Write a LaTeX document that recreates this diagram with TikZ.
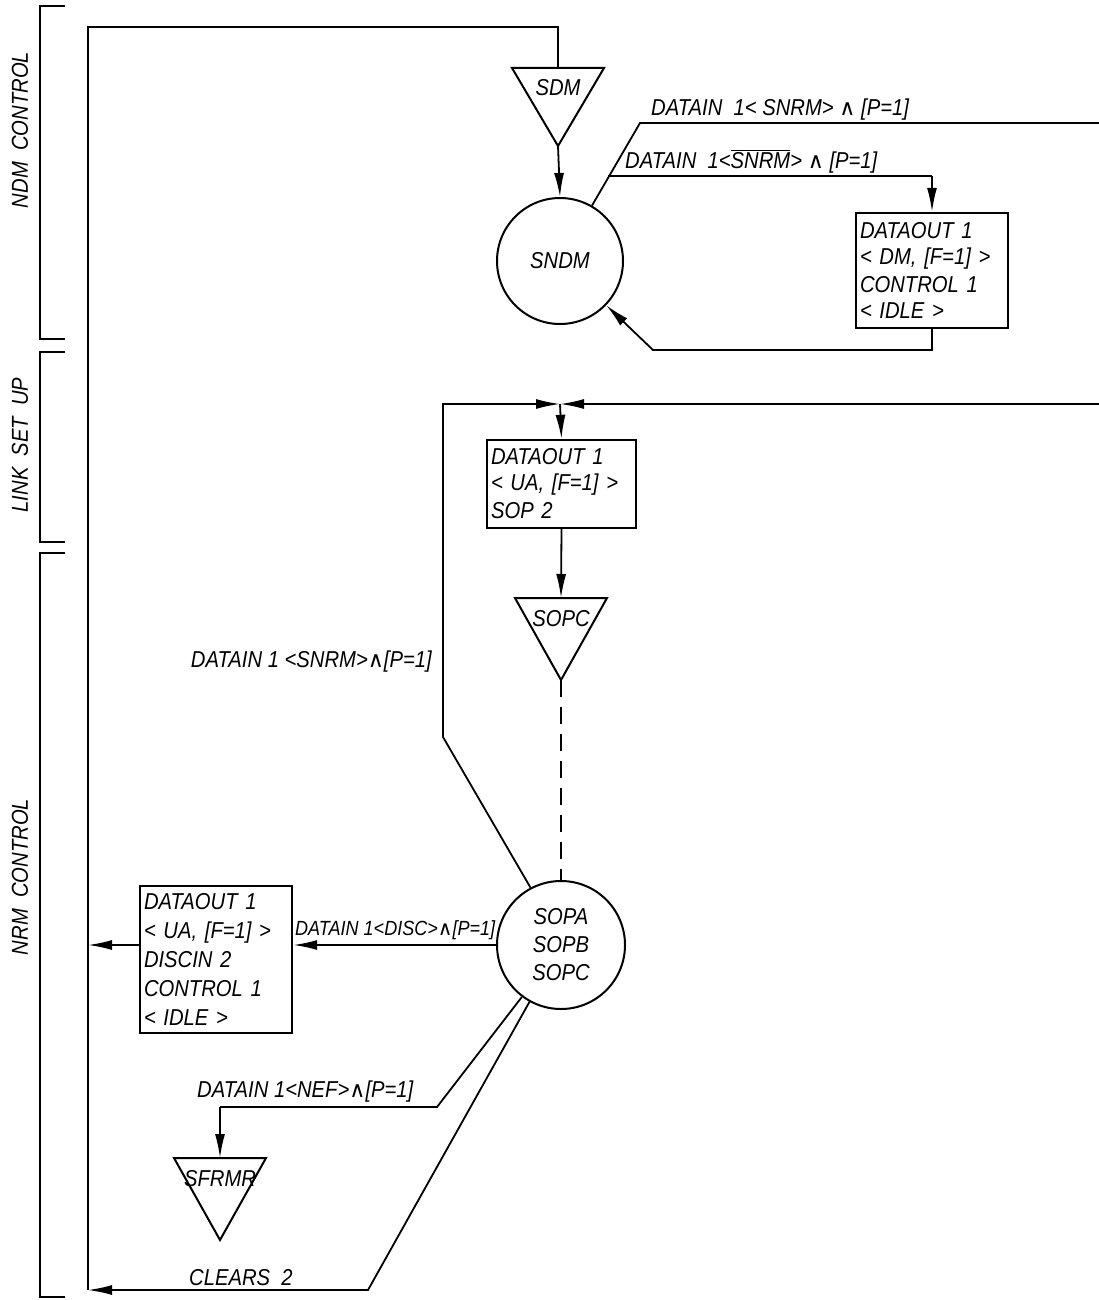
\documentclass[tikz,border=0pt]{standalone}
\usepackage{fontspec}
\setmainfont{Liberation Sans}[FakeStretch=0.88]
\newfontfamily\symf{DejaVu Sans}
\usetikzlibrary{arrows.meta,calc}
\newcommand{\andsym}{{\symf\fontsize{22}{24}\selectfont ∧}}
\begin{document}
\begin{tikzpicture}[x=1pt,y=-1pt,
  every node/.style={font=\fontsize{23}{28}\selectfont\itshape},
  ln/.style={line width=1.8pt,line join=miter},
  arr/.style={ln,-{Latex[length=24pt,width=10pt]}},
  boxnode/.style={draw,line width=2.4pt,align=left,inner xsep=3pt,inner ysep=3pt,anchor=center},
  state/.style={draw,circle,line width=2pt,inner sep=0pt,align=center},
  tri/.style={line width=2pt,line join=miter},
  lbl/.style={inner sep=1pt,anchor=south west},
  brk/.style={line width=2.2pt}]
\useasboundingbox (0,0) rectangle (1099,1300);
\fill[white] (0,0) rectangle (1099,1300);

% brackets and their labels
\draw[brk] (65,6) -- (40,6) -- (40,339) -- (65,339);
\draw[brk] (65,352) -- (40,352) -- (40,542) -- (65,542);
\draw[brk] (65,553) -- (40,553) -- (40,1297) -- (65,1297);
\node[rotate=90] (lndm) at (20,130) {NDM \ CONTROL};
\node[rotate=90] (llink) at (20,445) {LINK \ SET \ UP};
\node[rotate=90] (lnrm) at (20,877) {NRM \ CONTROL};

% states
\node[state,minimum size=126pt] (sndm) at (560,261) {SNDM};
\node[state,minimum size=128pt,font=\fontsize{23}{28}\selectfont\itshape] (sopa) at (561,945) {SOPA\\SOPB\\SOPC};

% boxes
\node[boxnode,minimum width=152pt,minimum height=115pt,text width=144pt] (box1) at (932,270.5)
  {DATAOUT 1\\\kern-2pt< DM, [F=1] >\\CONTROL 1\\\kern-2pt< IDLE >};
\node[boxnode,minimum width=149pt,minimum height=88pt,text width=141pt] (box2) at (561.5,484)
  {DATAOUT 1\\\kern-2pt< UA, [F=1] >\\ SOP 2};
\node[boxnode,minimum width=152pt,minimum height=147pt,text width=144pt,font=\fontsize{23}{29}\selectfont\itshape] (box3) at (216,959.5)
  {DATAOUT 1\\< UA, [F=1] >\\DISCIN 2\\CONTROL 1\\< IDLE >};

% triangles
\coordinate (sdmT) at (558,68);  \coordinate (sdmA) at (558,146);
\draw[tri] (512,68) -- (604,68) -- (sdmA) -- cycle;
\node (sdmtxt) at (558,88) {SDM};
\coordinate (sopcT) at (561,598); \coordinate (sopcA) at (561,680);
\draw[tri] (515,598) -- (607,598) -- (sopcA) -- cycle;
\node (sopctxt) at (561,619) {SOPC};
\coordinate (sfrT) at (220,1158); \coordinate (sfrA) at (220,1240);
\draw[tri] (174,1158) -- (266,1158) -- (sfrA) -- cycle;
\node (sfrtxt) at (220,1179) {SFRMR};

% bus on the left
\coordinate (busB) at (88,1290);
\coordinate (busT) at (88,27);
\coordinate (busR) at (558,27);
\draw[ln] (busB) -- (busT) -- (busR) -- (sdmT);
\draw[arr] (sdmA) -- (sndm.north);

% NDM control transitions
\coordinate (k1) at (640,123);
\coordinate (e1) at (1099,123);
\coordinate (k2) at (608,176);
\coordinate (k2r) at (932,176);
\draw[ln] (sndm.60.5) -- (k1) -- (e1);
\draw[ln] (k2) -- (k2r);
\draw[arr] (k2r) -- (box1.north);
\coordinate (r1) at (932,350);
\coordinate (r2) at (653,350);
\draw[arr] (box1.south) -- (r1) -- (r2) -- (sndm);
\node[lbl] (l1) at (650,121) {DATAIN \ 1< SNRM> \andsym\ [P=1]};
\node[lbl] (l2) at (624,174) {DATAIN \ 1<$\overline{\mbox{SNRM}}$> \andsym\ [P=1]};

% link set up
\coordinate (meet) at (560,404);
\coordinate (e2) at (1099,404);
\coordinate (k3) at (443,737);
\coordinate (k4) at (443,404);
\draw[arr] (e2) -- (meet);
\draw[arr] (sopa.118) -- (k3) -- (k4) -- (meet);
\draw[arr] (meet) -- (box2.north);
\draw[arr] (box2.south) -- (sopcT);
\draw[ln,dash pattern=on 17pt off 10pt] (sopcA) -- (sopa.north);
\node[anchor=east,inner sep=1pt] (l3) at (433,662) {DATAIN 1 <SNRM>\andsym [P=1]};

% NRM control transitions
\draw[arr] (sopa.west) -- (sopa.west -| box3.east);
\draw[arr] (sopa.west -| box3.west) -- (sopa.west -| busB);
\node[lbl,font=\fontsize{20.5}{24}\selectfont\itshape] (l4) at (294,941) {DATAIN 1<DISC>{\symf\fontsize{20}{22}\selectfont ∧}[P=1]};
\coordinate (k5) at (437,1107);
\coordinate (k6) at (220,1107);
\draw[ln] (sopa.233) -- (k5) -- (k6);
\draw[arr] (k6) -- (sfrT);
\node[lbl] (l5) at (196,1103) {DATAIN 1<NEF>\andsym [P=1]};
\coordinate (k7) at (368,1290);
\draw[arr] (sopa.241) -- (k7) -- (busB);
\node[lbl] (l6) at (188,1287) {CLEARS \ 2};
\end{tikzpicture}
\end{document}
